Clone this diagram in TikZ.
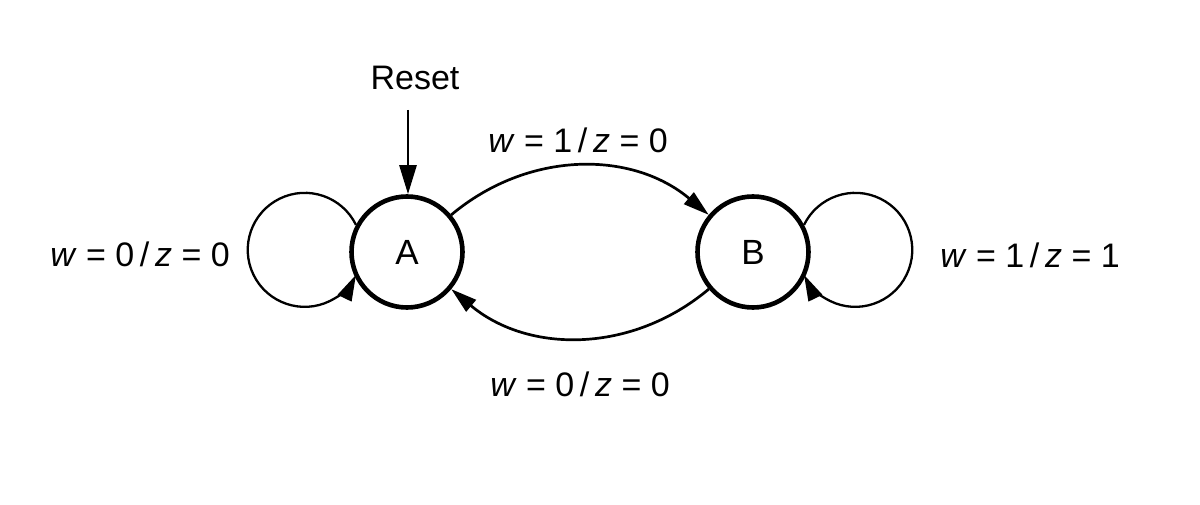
\documentclass[tikz,border=0pt]{standalone}
\usepackage{fontspec}
\setmainfont{Liberation Sans}
\usetikzlibrary{arrows.meta}
\newcommand{\lab}[2]{\textit{w} = #1\,/\,\textit{z} = #2}
\begin{document}
\begin{tikzpicture}[x=1pt,y=1pt,
  state/.style={circle, draw, line width=4.6pt, minimum size=111pt, inner sep=0pt, font=\fontsize{35}{40}\selectfont},
  lbl/.style={font=\fontsize{34}{40}\selectfont, inner sep=0pt},
  conn/.style={line width=2.7pt},
  loopline/.style={line width=2.3pt},
  tip/.style={-{Triangle[length=26pt,width=15pt]}},
  bigtip/.style={-{Triangle[length=29pt,width=17pt]}}]
\useasboundingbox (0,0) rectangle (1200,504);
\node[state] (A) at (407,252) {A};
\node[state] (B) at (753,252) {B};
\node[lbl] (R) at (415,426) {Reset};
\coordinate (rs) at (408,394);
\draw[conn, bigtip] (rs) -- (rs |- A.north);
\draw[conn, tip] (A.40) to[out=40, in=140] (B.140);
\draw[conn, tip] (B.-140) to[out=-140, in=-40] (A.-40);
\draw[loopline, tip] (A.152) arc[start angle=26, end angle=334, radius=57];
\draw[loopline, tip] (B.28) arc[start angle=154, end angle=-154, radius=57];
\node[lbl] (l1) at (578,364) {\lab{1}{0}};
\node[lbl] (l2) at (580,120) {\lab{0}{0}};
\node[lbl] (l3) at (140,250) {\lab{0}{0}};
\node[lbl] (l4) at (1030,249) {\lab{1}{1}};
\end{tikzpicture}
\end{document}
